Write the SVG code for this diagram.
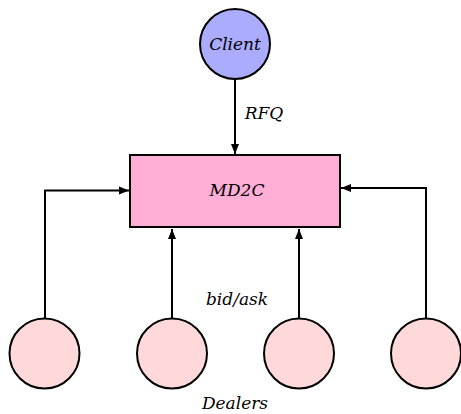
<svg xmlns="http://www.w3.org/2000/svg" width="461" height="414" viewBox="0 0 461 414">
<defs>
<style>
text{font-family:"DejaVu Serif","Liberation Serif",serif;font-style:italic;font-size:17px;fill:#000;text-anchor:middle}
.node{stroke:#000;stroke-width:2}
.edge{fill:none;stroke:#000;stroke-width:2}
.dealer{fill:#ffd9d9}
</style>
<marker id="ah" viewBox="0 0 10 10" refX="10" refY="5" markerWidth="5" markerHeight="5" orient="auto" markerUnits="strokeWidth">
<path d="M0,1 L10,5 L0,9 Z" fill="#000"/>
</marker>
</defs>
<rect width="461" height="414" fill="#fff"/>
<g id="connectors">
<line class="edge" x1="235" y1="80" x2="235" y2="154" marker-end="url(#ah)"/>
<polyline class="edge" points="45,318 45,190.5 129,190.5" marker-end="url(#ah)"/>
<polyline class="edge" points="426,318 426,188 341,188" marker-end="url(#ah)"/>
<line class="edge" x1="172" y1="318" x2="172" y2="229" marker-end="url(#ah)"/>
<line class="edge" x1="299" y1="318" x2="299" y2="229" marker-end="url(#ah)"/>
<text x="264" y="119">RFQ</text>
<text x="237" y="305">bid/ask</text>
</g>
<g id="client">
<circle class="node" cx="235" cy="44" r="35" fill="#acacff"/>
<text x="235" y="50">Client</text>
</g>
<g id="md2c">
<rect class="node" x="130" y="155" width="210" height="72" fill="#ffaed6"/>
<text x="237" y="196">MD2C</text>
</g>
<g id="dealer1"><circle class="node dealer" cx="44.5" cy="353.5" r="35"/></g>
<g id="dealer2"><circle class="node dealer" cx="172" cy="353.5" r="35"/></g>
<g id="dealer3"><circle class="node dealer" cx="299" cy="353.5" r="35"/></g>
<g id="dealer4"><circle class="node dealer" cx="426" cy="353.5" r="35"/></g>
<g id="dealers-label"><text x="235" y="409">Dealers</text></g>
</svg>
